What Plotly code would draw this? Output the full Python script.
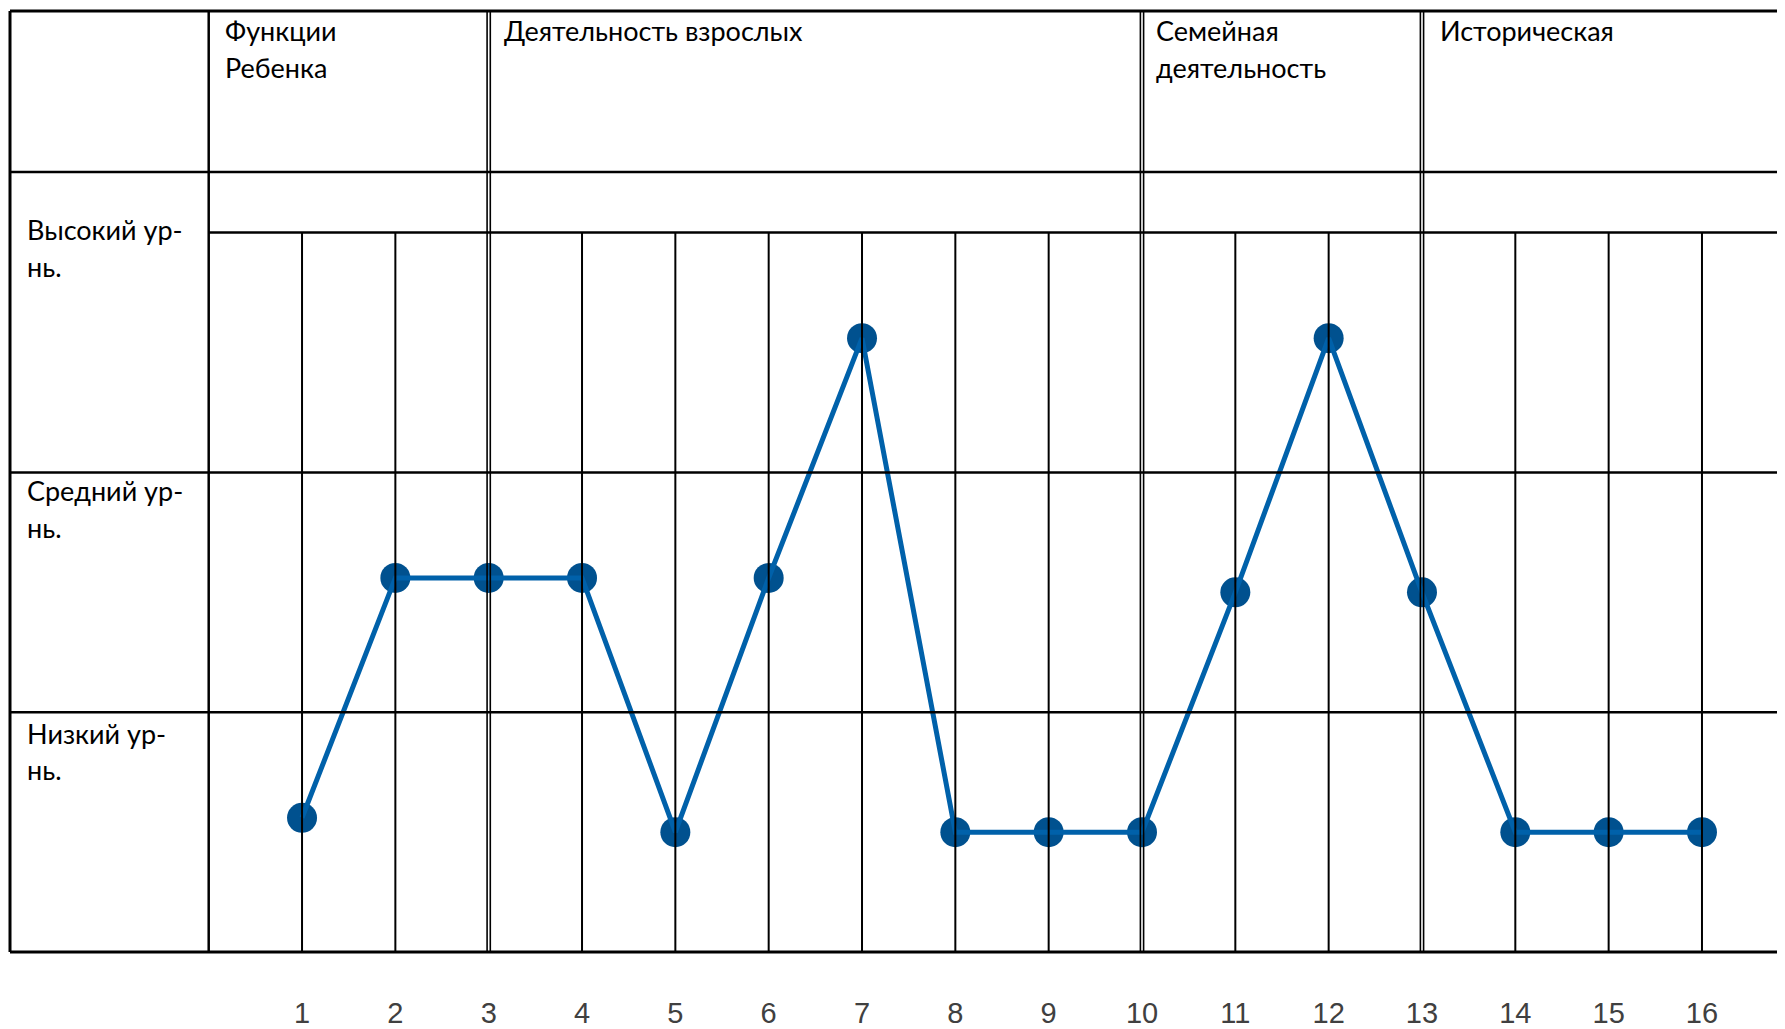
import plotly.graph_objects as go

# ---- data ----
points = list(range(1, 17))
values = [0.56, 1.56, 1.56, 1.56, 0.5, 1.56, 2.56, 0.5, 0.5, 0.5, 1.5, 2.56, 1.5, 0.5, 0.5, 0.5]
tick_labels = [str(p) for p in points]
level_rows = [["Высокий ур-", "нь."], ["Средний ур-", "нь."], ["Низкий ур-", "нь."]]
group_titles = [["Функции", "Ребенка"], ["Деятельность взрослых"], ["Семейная", "деятельность"], ["Историческая"]]
group_starts = [0, 3, 10, 13]
levels = [1, 2, 3]

# ---- layout constants (page pixels, body margin 8 px compensated) ----
OFF = 8
W, H = 1785 - OFF, 1029 - OFF
PX_X = 93.33          # px per x unit
PX_Y = 242.6          # px per y unit
X0_PX = 208.7 - OFF   # pixel of x=0
Y0_PX = 963 - OFF     # pixel of y=0
BOT_PX = Y0_PX + 7    # pixel of plot bottom
XMIN = -X0_PX / PX_X
XMAX = (W - X0_PX) / PX_X
YMIN = -(BOT_PX - Y0_PX) / PX_Y
YMAX = Y0_PX / PX_Y

def px_x(p):
    return (p - OFF - X0_PX) / PX_X

def px_y(p):
    return (Y0_PX - (p - OFF)) / PX_Y

LEFT = px_x(10)
TOP = px_y(11)
HEAD = px_y(174)
TOPLEVEL = 3

BLACK = "#000000"
LW = 2.5

shapes = []
def hline(y, x0, x1=XMAX + 1, w=LW):
    shapes.append(dict(type="line", x0=x0, x1=x1, y0=y, y1=y, line=dict(color=BLACK, width=w)))

def vline(x, y0, y1, w=LW):
    shapes.append(dict(type="line", x0=x, x1=x, y0=y0, y1=y1, line=dict(color=BLACK, width=w)))

# horizontal table lines
hline(TOP, LEFT, w=3)
hline(HEAD, LEFT)
hline(TOPLEVEL, 0)
for lv in levels[:-1]:
    hline(lv, LEFT)
hline(0, LEFT, w=3)

# left border and first column divider
vline(LEFT, 0, TOP, w=3)
vline(0, 0, TOP)

# group double lines
dd = 1.6 / PX_X
for g in group_starts[1:]:
    vline(g - dd, 0, TOP, w=1.6)
    vline(g + dd, 0, TOP, w=1.6)

# single grid lines
for p in points:
    if p not in group_starts:
        vline(p, 0, TOPLEVEL, w=2)

annotations = []
FONT = "Lato, Carlito, Calibri, sans-serif"
FS = 27

# group headers
head_y = [px_y(30.7), px_y(68.3)]
head_x = [px_x(223.1), px_x(502), px_x(1154.3), px_x(1437.8)]
for hx, lines in zip(head_x, group_titles):
    for i, t in enumerate(lines):
        annotations.append(dict(x=hx, y=head_y[i], text=t, showarrow=False,
                                xanchor="left", yanchor="middle",
                                font=dict(family=FONT, size=FS, color="#000000")))

# level labels
label_y = [[px_y(232.2), px_y(269.8)], [px_y(496.5), px_y(533.5)], [px_y(742.2), px_y(778.5)]]
for lines, ys in zip(level_rows, label_y):
    for t, y in zip(lines, ys):
        annotations.append(dict(x=px_x(25), y=y, text=t, showarrow=False,
                                xanchor="left", yanchor="middle",
                                font=dict(family=FONT, size=FS, color="#000000")))

fig = go.Figure()
fig.add_trace(go.Scatter(x=points, y=values, mode="markers",
                         marker=dict(size=30, color="#00518f", line=dict(width=0)),
                         hoverinfo="skip", showlegend=False, cliponaxis=False))
fig.add_trace(go.Scatter(x=points, y=values, mode="lines",
                         line=dict(color="#0061aa", width=5),
                         hoverinfo="skip", showlegend=False))

fig.update_layout(
    width=W, height=H,
    margin=dict(l=0, r=0, t=0, b=H - BOT_PX, pad=0),
    paper_bgcolor="white", plot_bgcolor="white",
    shapes=shapes, annotations=annotations,
    showlegend=False,
    xaxis=dict(range=[XMIN, XMAX], showgrid=False, zeroline=False, showline=False,
               tickmode="array", tickvals=points, ticktext=tick_labels,
               ticks="outside", ticklen=28, tickcolor="rgba(0,0,0,0)",
               tickfont=dict(family="Liberation Sans, Arial, sans-serif", size=29, color="#404040"),
               fixedrange=True),
    yaxis=dict(range=[YMIN, YMAX], showgrid=False, zeroline=False, showline=False,
               showticklabels=False, ticks="", fixedrange=True),
)

fig.write_html("out.html")
